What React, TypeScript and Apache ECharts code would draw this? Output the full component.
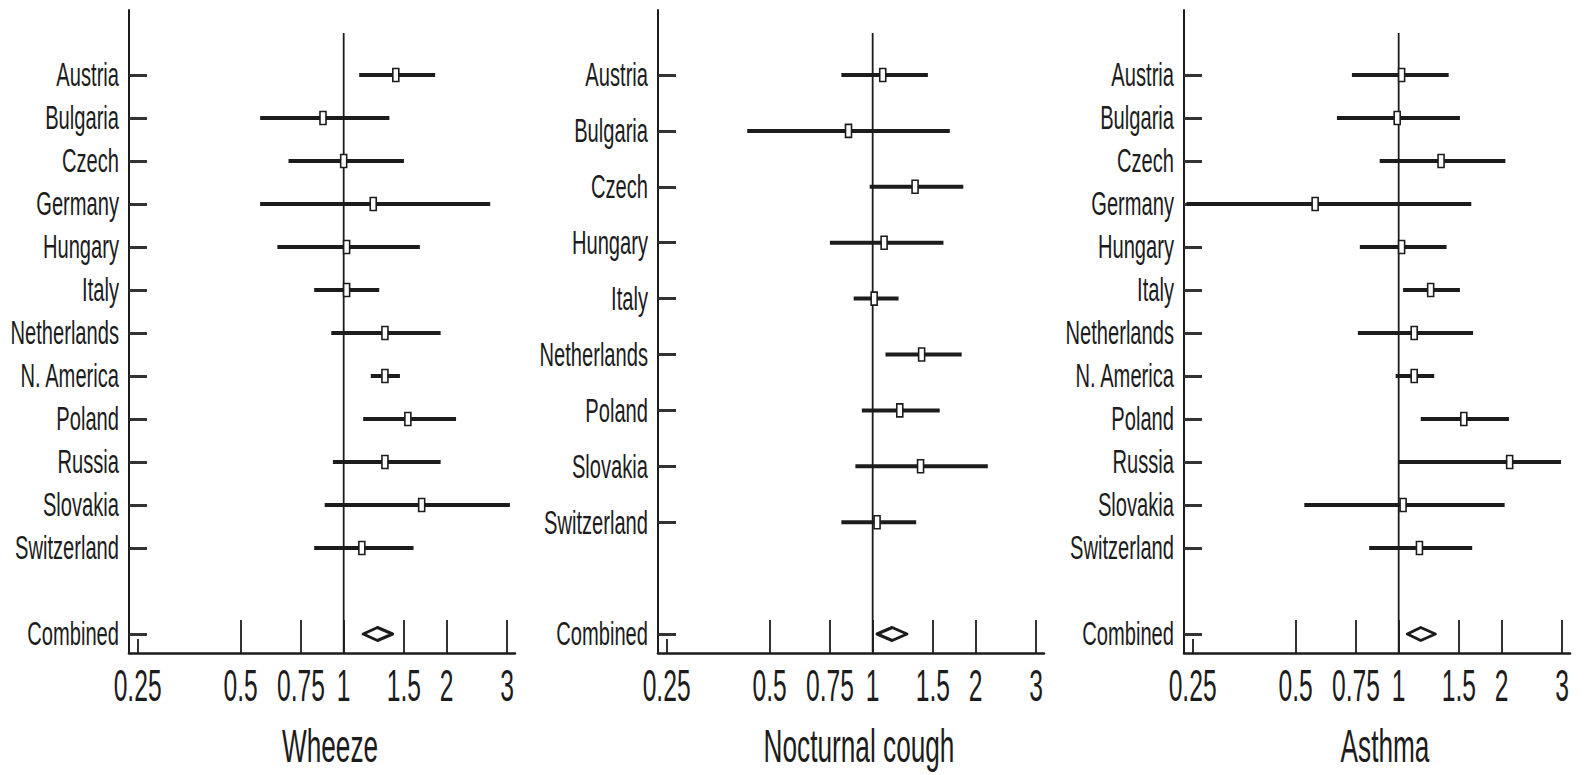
import React, { useEffect, useRef } from "react";
import * as echarts from "echarts";

// ---------- data ----------
const tickValues = [0.25, 0.5, 0.75, 1, 1.5, 2, 3];
const tickLabels = ["0.25", "0.5", "0.75", "1", "1.5", "2", "3"];

const wheezeTitle = "Wheeze";
const wheezeCountries = ["Austria", "Bulgaria", "Czech", "Germany", "Hungary", "Italy", "Netherlands", "N. America", "Poland", "Russia", "Slovakia", "Switzerland"];
const wheezeEst = [1.42, 0.87, 1.0, 1.22, 1.02, 1.02, 1.32, 1.32, 1.54, 1.32, 1.69, 1.13];
const wheezeLow = [1.11, 0.57, 0.69, 0.57, 0.64, 0.82, 0.92, 1.2, 1.14, 0.93, 0.88, 0.82];
const wheezeHigh = [1.85, 1.36, 1.5, 2.68, 1.67, 1.27, 1.92, 1.46, 2.13, 1.92, 3.06, 1.6];
const wheezeCombined = [1.14, 1.255, 1.39]; // low, estimate, high

const coughTitle = "Nocturnal cough";
const coughCountries = ["Austria", "Bulgaria", "Czech", "Hungary", "Italy", "Netherlands", "Poland", "Slovakia", "Switzerland"];
const coughEst = [1.07, 0.85, 1.33, 1.08, 1.01, 1.39, 1.2, 1.38, 1.03];
const coughLow = [0.81, 0.43, 0.98, 0.75, 0.88, 1.09, 0.93, 0.89, 0.81];
const coughHigh = [1.45, 1.68, 1.84, 1.61, 1.19, 1.82, 1.57, 2.17, 1.34];
const coughCombined = [1.03, 1.14, 1.26];

const asthmaTitle = "Asthma";
const asthmaCountries = ["Austria", "Bulgaria", "Czech", "Germany", "Hungary", "Italy", "Netherlands", "N. America", "Poland", "Russia", "Slovakia", "Switzerland"];
const asthmaEst = [1.02, 0.99, 1.33, 0.57, 1.02, 1.24, 1.11, 1.11, 1.55, 2.11, 1.03, 1.15];
const asthmaLow = [0.73, 0.66, 0.88, 0.24, 0.77, 1.03, 0.76, 0.98, 1.16, 1.0, 0.53, 0.82];
const asthmaHigh = [1.4, 1.51, 2.05, 1.63, 1.38, 1.51, 1.65, 1.27, 2.1, 2.98, 2.04, 1.64];
const asthmaCombined = [1.06, 1.16, 1.28];

const combinedLabel = "Combined";
const referenceValue = 1;

// ---------- layout ----------
const FONT = "Liberation Sans, Arial, sans-serif";
const INK = "#1c1c1c";
const GRID_LEFTS = [129, 658, 1184];
const GRID_TOP = 10;
const GRID_BOTTOM_PX = 653;
const GRID_WIDTH = 386;
const FIRST_ROW_PX = 75;
const LAST_ROW_PX = 634;
const LN = Math.log;
const X_MIN = LN(0.25) - 0.058;
const X_MAX = LN(3) + 0.054;

type Panel = { title: string; names: string[]; est: number[]; low: number[]; high: number[]; comb: number[] };

const panels: Panel[] = [
  { title: wheezeTitle, names: wheezeCountries, est: wheezeEst, low: wheezeLow, high: wheezeHigh, comb: wheezeCombined },
  { title: coughTitle, names: coughCountries, est: coughEst, low: coughLow, high: coughHigh, comb: coughCombined },
  { title: asthmaTitle, names: asthmaCountries, est: asthmaEst, low: asthmaLow, high: asthmaHigh, comb: asthmaCombined },
];

function yRange(n: number) {
  const combIdx = n + 1;
  const s = (LAST_ROW_PX - FIRST_ROW_PX) / combIdx;
  return { min: -(FIRST_ROW_PX - GRID_TOP) / s, max: combIdx + (GRID_BOTTOM_PX - LAST_ROW_PX) / s, combIdx };
}

function renderForest(params: any, api: any) {
  const y = api.value(3);
  const lo = api.coord([api.value(0), y]);
  const hi = api.coord([api.value(1), y]);
  const pt = api.coord([api.value(2), y]);
  if (api.value(4) === 1) {
    return {
      type: "polygon",
      shape: { points: [[lo[0], lo[1]], [pt[0], pt[1] - 6.5], [hi[0], hi[1]], [pt[0], pt[1] + 6.5]] },
      style: { fill: "#fff", stroke: INK, lineWidth: 3, lineJoin: "round" },
    };
  }
  return {
    type: "group",
    children: [
      { type: "line", shape: { x1: lo[0], y1: lo[1], x2: hi[0], y2: hi[1] }, style: { stroke: INK, lineWidth: 4 } },
      { type: "rect", shape: { x: pt[0] - 3, y: pt[1] - 6.5, width: 6, height: 13 }, style: { fill: "#fff", stroke: INK, lineWidth: 1.6 } },
    ],
  };
}

function renderRef(params: any, api: any) {
  const cs = params.coordSys;
  const p = api.coord([api.value(0), api.value(1)]);
  return {
    type: "line",
    shape: { x1: p[0], y1: cs.y + 23, x2: p[0], y2: cs.y + cs.height },
    style: { stroke: INK, lineWidth: 1.8 },
  };
}

export default function App() {
  const ref = useRef<HTMLDivElement>(null);
  useEffect(() => {
    if (!ref.current) return;
    const chart = echarts.init(ref.current, undefined, { renderer: "svg" });
    const grids: any[] = [];
    const xAxes: any[] = [];
    const extraX: any[] = [];
    const yAxes: any[] = [];
    const series: any[] = [];
    panels.forEach((p, gi) => {
      const n = p.names.length;
      const yr = yRange(n);
      grids.push({ left: GRID_LEFTS[gi], top: GRID_TOP, width: GRID_WIDTH, height: GRID_BOTTOM_PX - GRID_TOP });
      xAxes.push({
        type: "value", gridIndex: gi, min: X_MIN, max: X_MAX, position: "bottom",
        axisLine: { show: true, onZero: false, lineStyle: { color: INK, width: 2.6 } },
        axisTick: { show: true, inside: true, length: 33, customValues: tickValues.slice(1).map(LN), lineStyle: { color: INK, width: 1.8 } },
        axisLabel: { show: false },
        splitLine: { show: false },
      });
      // short first tick (0.25)
      extraX.push({
        type: "value", gridIndex: gi, min: X_MIN, max: X_MAX, position: "bottom", offset: 0,
        axisLine: { show: false, onZero: false },
        axisTick: { show: true, inside: true, length: 14, customValues: [LN(tickValues[0])], lineStyle: { color: INK, width: 1.8 } },
        axisLabel: { show: false },
        splitLine: { show: false },
      });
      const yTicks: number[] = p.names.map((_, i) => i).concat([yr.combIdx]);
      yAxes.push({
        type: "value", gridIndex: gi, inverse: true, min: yr.min, max: yr.max,
        axisLine: { show: true, onZero: false, lineStyle: { color: INK, width: 2 } },
        axisTick: { show: true, inside: true, length: 18, customValues: yTicks, lineStyle: { color: "#333", width: 3 } },
        axisLabel: { show: false },
        splitLine: { show: false },
      });
      series.push({
        type: "custom", xAxisIndex: gi, yAxisIndex: gi, renderItem: renderRef, silent: true,
        data: [[LN(referenceValue), yr.max]],
      });
      const rows: any[] = p.names.map((_, i) => [LN(p.low[i]), LN(p.high[i]), LN(p.est[i]), i, 0]);
      rows.push([LN(p.comb[0]), LN(p.comb[2]), LN(p.comb[1]), yr.combIdx, 1]);
      series.push({ type: "custom", xAxisIndex: gi, yAxisIndex: gi, renderItem: renderForest, data: rows, silent: true });
    });
    chart.setOption({ animation: false, grid: grids, xAxis: xAxes.concat(extraX), yAxis: yAxes, series });

    const g: any[] = [];
    const txt = (x: number, y: number, text: string, size: number, align: string, sx: number) => ({
      type: "text", x, y, scaleX: sx, silent: true,
      style: { text, fontSize: size, fontFamily: FONT, fill: INK, align, verticalAlign: "middle" },
    });
    panels.forEach((p, gi) => {
      const yr = yRange(p.names.length);
      const labels = p.names.map((name, i) => ({ name, idx: i })).concat([{ name: combinedLabel, idx: yr.combIdx }]);
      labels.forEach((r) => {
        const [px, py] = chart.convertToPixel({ gridIndex: gi }, [X_MIN, r.idx]) as number[];
        g.push(txt(px - 10, py, r.name, 33, "right", 0.61));
      });
      tickValues.forEach((t, k) => {
        const [px, py] = chart.convertToPixel({ gridIndex: gi }, [LN(t), yr.max]) as number[];
        g.push(txt(px, py + 33, tickLabels[k], 44, "center", 0.56));
      });
      const [cx, cy] = chart.convertToPixel({ gridIndex: gi }, [(X_MIN + X_MAX) / 2, yr.max]) as number[];
      g.push(txt(cx + 8, cy + 93, p.title, 46, "center", 0.57));
    });
    chart.setOption({ graphic: g });
    return () => chart.dispose();
  }, []);
  return <div ref={ref} style={{ position: "fixed", left: 0, top: 0, width: 1586, height: 775, background: "#fff" }} />;
}
